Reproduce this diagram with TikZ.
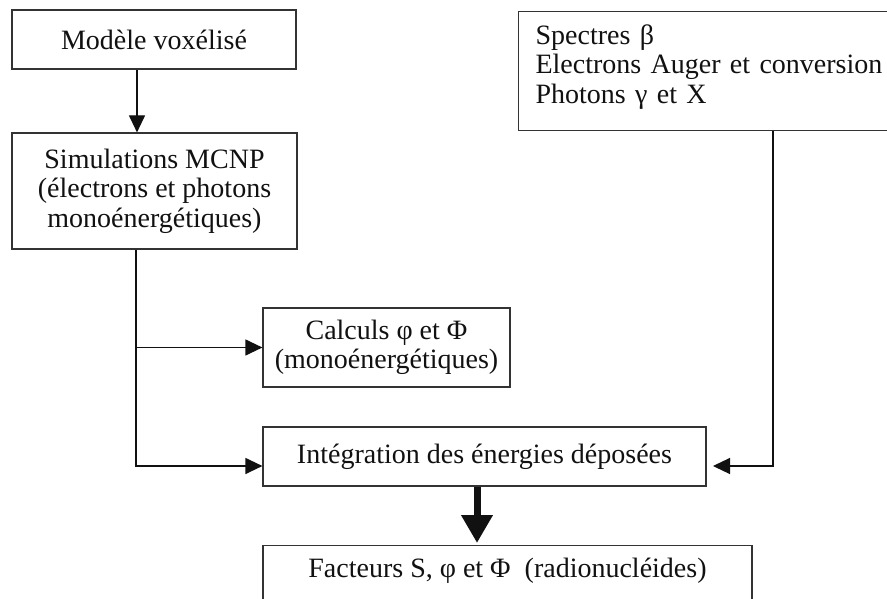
\documentclass[tikz,border=0pt]{standalone}
\usepackage{fontspec}
\setmainfont{Liberation Serif}
\usepackage{tikz}
\usetikzlibrary{arrows.meta,positioning,calc}
\definecolor{ink}{HTML}{111111}
\definecolor{boxline}{HTML}{333333}

\begin{document}
\begin{tikzpicture}[x=1pt,y=-1pt]
    \tikzset{
      box/.style={draw=boxline,line width=1.2pt,fill=white,align=center,inner sep=2pt,text=ink,font=\fontsize{28}{29.5}\selectfont},
      arrow/.style={-{Triangle[length=17pt,width=16pt]},draw=ink,line width=1.2pt},
      fat/.style={-{Triangle[length=28pt,width=30pt]},draw=ink,line width=7pt}
    }
    \path[use as bounding box,fill=white] (0,0) rectangle (887,599);
    \node[box,minimum width=284,minimum height=59] (model) at (154,39.5) {Modèle voxélisé};
    \node[box,minimum width=285,minimum height=116] (mcnp) at (154.5,191) {Simulations MCNP\\(électrons et photons\\monoénergétiques)};
    \node[box,anchor=north west,align=left,text width=362pt,inner xsep=17pt,inner ysep=0pt,text height=32.5pt,text depth=86.5pt] (spectra) at (518,11) {Spectres β\\Electrons Auger et conversion\\Photons γ et X};
    \node[box,minimum width=247,minimum height=79] (calc) at (386.5,347.5) {Calculs φ et Φ\\(monoénergétiques)};
    \node[box,minimum width=443,minimum height=59] (integ) at (484.5,456.5) {Intégration des énergies déposées};
    \node[box,anchor=north,minimum width=489,inner ysep=2pt,text height=30pt,text depth=70pt] (fact) at (507.5,545) {Facteurs S, φ et Φ\ \ (radionucléides)};
    \coordinate (drop) at (137,0);
    \coordinate (spine) at (136,466);
    \coordinate (bend) at (773,466);
    \coordinate (inlet) at (713,466);
    \coordinate (tip) at (477,543);
    \draw[arrow] (model.south -| drop) -- (mcnp.north -| drop);
    \draw[arrow] (mcnp.south -| spine) -- (spine) -- (spine -| integ.west);
    \draw[arrow] (spine |- calc.west) -- (calc.west);
    \draw[arrow] (spectra.south -| bend) -- (bend) -- (inlet);
    \draw[fat] (integ.south -| tip) -- (tip);
  \end{tikzpicture}
\end{document}
